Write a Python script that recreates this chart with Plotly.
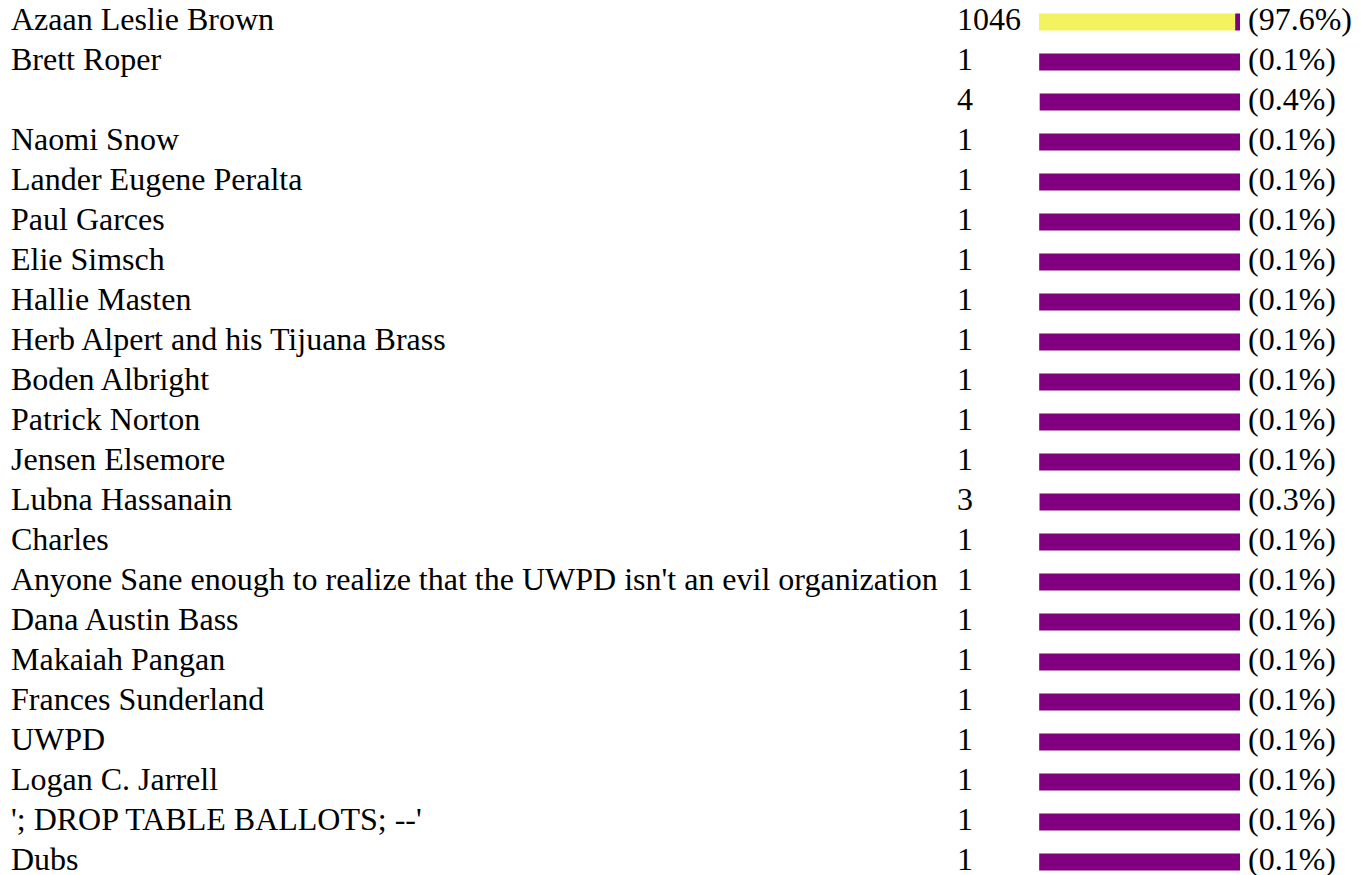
import plotly.graph_objects as go

# Ballot tally: candidate names, vote counts and share of the vote (%)
names = [
    "Azaan Leslie Brown", "Brett Roper", "", "Naomi Snow", "Lander Eugene Peralta",
    "Paul Garces", "Elie Simsch", "Hallie Masten", "Herb Alpert and his Tijuana Brass",
    "Boden Albright", "Patrick Norton", "Jensen Elsemore", "Lubna Hassanain", "Charles",
    "Anyone Sane enough to realize that the UWPD isn't an evil organization",
    "Dana Austin Bass", "Makaiah Pangan", "Frances Sunderland", "UWPD", "Logan C. Jarrell",
    "'; DROP TABLE BALLOTS; --'", "Dubs",
]
votes = [1046, 1, 4, 1, 1, 1, 1, 1, 1, 1, 1, 1, 3, 1, 1, 1, 1, 1, 1, 1, 1, 1]
share = [97.6, 0.1, 0.4, 0.1, 0.1, 0.1, 0.1, 0.1, 0.1, 0.1, 0.1, 0.1, 0.3, 0.1,
         0.1, 0.1, 0.1, 0.1, 0.1, 0.1, 0.1, 0.1]

W, H = 1361, 875
ROW = 40.0          # row pitch in px
FIRST = 22.0        # centre of first bar in px
BAR_X0, BAR_X1 = 1039, 1240
FONT = dict(family="Liberation Serif, Times New Roman, serif", size=32, color="#000000")
TEXT_LIFT = 3       # text sits slightly above the bar centre

rows = list(range(len(names)))
rest = [100 - s for s in share]

fig = go.Figure()
fig.add_trace(go.Bar(
    y=rows, x=share, orientation="h", xaxis="x2", yaxis="y",
    marker=dict(color="#f3f35f", line=dict(width=0)), width=17 / ROW,
    hoverinfo="skip",
))
fig.add_trace(go.Bar(
    y=rows, x=rest, base=share, orientation="h", xaxis="x2", yaxis="y",
    marker=dict(color="#800080", line=dict(width=0)), width=17 / ROW,
    hoverinfo="skip",
))

annotations = []
for r, (n, v, s) in enumerate(zip(names, votes, share)):
    common = dict(y=r, xref="x", yref="y", showarrow=False, xanchor="left",
                  yanchor="middle", yshift=TEXT_LIFT, font=FONT)
    annotations.append(dict(x=9, text=n, **common))
    annotations.append(dict(x=955, text=str(v), **common))
    annotations.append(dict(x=1246, text=f"({s}%)", **common))

fig.update_layout(
    width=W, height=H,
    margin=dict(l=0, r=0, t=0, b=0),
    paper_bgcolor="white", plot_bgcolor="rgba(0,0,0,0)",
    barmode="overlay", showlegend=False,
    annotations=annotations,
    xaxis=dict(range=[0, W], domain=[0, 1], visible=False, fixedrange=True, anchor="y"),
    xaxis2=dict(range=[0, 100], domain=[BAR_X0 / W, BAR_X1 / W], visible=False,
                fixedrange=True, anchor="y"),
    yaxis=dict(range=[(H - FIRST) / ROW, -FIRST / ROW], visible=False, fixedrange=True),
)

fig.write_html("out.html", config={"displayModeBar": False})
